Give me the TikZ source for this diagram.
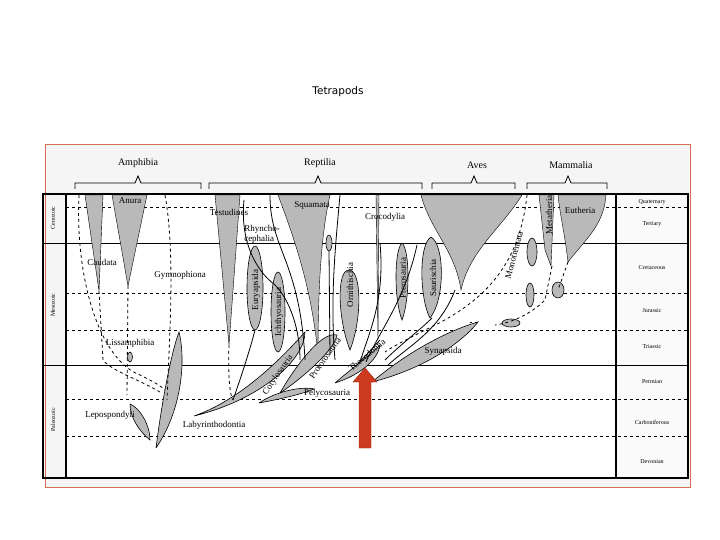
\documentclass[tikz,border=0pt]{standalone}
\usepackage{fontspec}
\setmainfont{Liberation Serif}
\newfontfamily\titlefont{DejaVu Sans}
\begin{document}
\begin{tikzpicture}[x=1pt,y=-1pt,
  sh/.style={fill=gray!55,draw=black,line width=0.6pt},
  lb/.style={font=\fontsize{9}{10}\selectfont,inner sep=0.5pt},
  pl/.style={font=\fontsize{6}{7}\selectfont,inner sep=0.5pt},
  gl/.style={font=\fontsize{10}{11}\selectfont},
  dl/.style={dashed,line width=0.8pt},
  sl/.style={line width=0.8pt},
  br/.style={line width=0.8pt}]
\useasboundingbox (0,0) rectangle (720,540);
\node[font=\titlefont\fontsize{10.5}{12}\selectfont] (title) at (338,92) {Tetrapods};
% frame
\draw[draw={rgb,255:red,214;green,110;blue,86},fill=gray!8,line width=1pt] (45,145) rectangle (690,487);
\fill[white] (66,194) rectangle (616,478);
\fill[white!96!gray] (616,194) rectangle (688,478);
% period lines
\foreach \y in {243,365} \draw[line width=0.7pt] (66,\y) -- (688,\y);
\foreach \y in {207,293,330,399,436} \draw[dashed,line width=0.6pt] (66,\y) -- (688,\y);
\draw[line width=0.5pt] (43,243) -- (66,243) (43,365) -- (66,365);
% shapes
\begin{scope}
\fill[gray!55,draw=black] (85,195) -- (103,195) -- (99,291) -- cycle;
\fill[gray!55,draw=black] (112,195) -- (147,195) -- (128,286) -- cycle;
\fill[gray!55,draw=black] (215,195) -- (240,195) -- (229,345) -- cycle;
\fill[gray!55,draw=black] (278,195) -- (330,195) .. controls (322,230) and (318,280) .. (318,355) .. controls (312,290) and (295,240) .. cycle;
\fill[gray!55,draw=black] (376,195) -- (379,195) -- (378,340) -- cycle;
\fill[gray!55,draw=black] (421,195) -- (522,195) .. controls (500,230) and (470,250) .. (461,290) .. controls (455,250) and (430,230) .. cycle;
\fill[gray!55,draw=black] (558,195) -- (606,195) .. controls (604,225) and (585,240) .. (568,262) .. controls (565,235) and (560,215) .. cycle;
\fill[gray!55,draw=black] (539,195) -- (554,195) -- (551,266) -- (545,250) -- cycle;
\draw[sh] (255,288) ellipse (8 and 42);
\draw[sh] (278,312) ellipse (7 and 40);
\draw[sh] (349,270) .. controls (362,270) and (362,320) .. (350,350) .. controls (338,320) and (336,270) .. (349,270);
\draw[sh] (402,243) .. controls (410,250) and (410,300) .. (402,320) .. controls (394,300) and (394,250) .. (402,243);
\draw[sh] (431,237) .. controls (445,245) and (445,300) .. (430,318) .. controls (420,300) and (418,245) .. (431,237);
\draw[sh] (156,448) .. controls (162,400) and (172,350) .. (179,332) .. controls (186,360) and (182,410) .. (156,448);
\draw[sh] (130,404) .. controls (140,408) and (150,425) .. (150,440) .. controls (140,432) and (130,418) .. (130,404);
\draw[sh] (372,382) .. controls (410,350) and (450,330) .. (478,322) .. controls (460,345) and (420,370) .. (372,382);
\draw[sh] (259,403) .. controls (275,392) and (300,386) .. (314,389) .. controls (300,395) and (275,400) .. (259,403);
\draw[sh] (194,416) .. controls (240,400) and (280,360) .. (305,332) .. controls (305,360) and (260,400) .. (194,416);
\draw[sh] (280,393) .. controls (290,375) and (320,330) .. (337,335) .. controls (335,350) and (300,380) .. (280,393);
\draw[sh] (335,383) .. controls (350,370) and (370,355) .. (380,345) .. controls (378,360) and (360,375) .. (335,383);
\draw[sh] (511,323) ellipse (9 and 4);
\draw[sh] (530,295) ellipse (4 and 12);
\draw[sh] (558,290) ellipse (6 and 8);
\draw[sh] (532,252) ellipse (5 and 14);
\draw[sh] (329,243) ellipse (3 and 8);
\draw[sh] (130,357) ellipse (2.5 and 5);
\end{scope}
% lines
\draw[dl] (79,195) .. controls (75,280) and (100,360) .. (140,375) .. controls (150,380) and (160,385) .. (165,390);
\draw[dl] (99,291) -- (103,360) .. controls (110,370) and (140,380) .. (160,392);
\draw[dl] (128,286) -- (127,395);
\draw[dl] (165,195) .. controls (175,250) and (170,330) .. (167,400);
\draw[dl] (229,345) .. controls (228,380) and (230,395) .. (233,400);
\draw[sl] (233,400) .. controls (240,380) and (250,350) .. (255,330);
\draw[sl] (244,200) .. controls (240,240) and (255,270) .. (275,285) .. controls (290,300) and (300,330) .. (300,360);
\draw[sl] (270,195) .. controls (270,250) and (300,260) .. (305,360);
\draw[sl] (329,250) -- (330,355);
\draw[sl] (340,195) .. controls (335,250) and (330,300) .. (335,360);
\draw[sl] (380,243) .. controls (385,300) and (370,330) .. (360,362);
\draw[sl] (417,245) .. controls (405,300) and (380,330) .. (366,362);
\draw[sl] (432,318) .. controls (420,330) and (400,345) .. (385,360);
\draw[sl] (455,290) .. controls (440,330) and (410,345) .. (388,365);
\draw[dl] (527,195) .. controls (520,260) and (490,300) .. (425,330) .. controls (410,338) and (395,345) .. (385,352);
\draw[dl] (552,266) -- (545,300) .. controls (530,315) and (510,323) .. (495,325);
\draw[dl] (568,262) -- (558,290);
\draw[dl] (478,322) -- (470,322);
\foreach \a/\b in {{(380,340)}/{(356,366)}} \draw[sl] \a -- \b;
% labels
\node[lb] (anura) at (130,201) {Anura};
\node[lb] (testud) at (229,212) {Testudines};
\node[lb] (squam) at (312,205) {Squamata};
\node[lb,align=left] (rhyn) at (262,234) {Rhyncho-\\cephalia};
\node[lb] (croc) at (385,217) {Crocodylia};
\node[lb] (caud) at (102,262) {Caudata};
\node[lb] (gymno) at (180,275) {Gymnophiona};
\node[lb] (liss) at (130,343) {Lissamphibia};
\node[lb] (lepo) at (110,415) {Lepospondyli};
\node[lb] (laby) at (214,425) {Labyrinthodontia};
\node[lb] (pely) at (327,393) {Pelycosauria};
\node[lb] (syn) at (443,351) {Synapsida};
\node[lb] (euth) at (580,210) {Eutheria};
\node[lb,rotate=90] (meta) at (549,215) {Metatheria};
\node[lb,rotate=75] (mono) at (514,255) {Monotremata};
\node[lb,rotate=90] (eury) at (256,290) {Euryapsida};
\node[lb,rotate=90] (ichth) at (279,312) {Ichthyosauria};
\node[lb,rotate=90] (orni) at (350,285) {Ornithischia};
\node[lb,rotate=90] (ptero) at (403,278) {Pterosauria};
\node[lb,rotate=90] (saur) at (433,278) {Saurischia};
\node[lb,rotate=55] (coty) at (278,375) {Cotylosauria};
\node[lb,rotate=55] (proto) at (325,358) {Protorosauria};
\node[lb,rotate=40] (theco) at (367,355) {Thecodontia};
% groups and braces
\node[gl] (amph) at (138,163) {Amphibia};
\node[gl] (rept) at (320,163) {Reptilia};
\node[gl] (aves) at (477,165) {Aves};
\node[gl] (mamm) at (571,165) {Mammalia};
\draw[br] (75,189) -- (75,183) -- (135,183) -- (138,176) -- (141,183) -- (201,183) -- (201,189);
\draw[br] (209,189) -- (209,183) -- (315,183) -- (318,176) -- (321,183) -- (422,183) -- (422,189);
\draw[br] (432,189) -- (432,183) -- (471,183) -- (474,176) -- (477,183) -- (515,183) -- (515,189);
\draw[br] (527,189) -- (527,183) -- (565,183) -- (568,176) -- (571,183) -- (607,183) -- (607,189);
% eras and periods
\node[pl,rotate=90] (ceno) at (53,218) {Cenozoic};
\node[pl,rotate=90] (meso) at (53,305) {Mesozoic};
\node[pl,rotate=90] (paleo) at (53,420) {Paleozoic};
\node[pl] (p1) at (652,202) {Quaternary};
\node[pl] (p2) at (652,224) {Tertiary};
\node[pl] (p3) at (652,268) {Cretaceous};
\node[pl] (p4) at (652,311) {Jurassic};
\node[pl] (p5) at (652,347) {Triassic};
\node[pl] (p6) at (652,382) {Permian};
\node[pl] (p7) at (652,422) {Carboniferous};
\node[pl] (p8) at (652,462) {Devonian};
% main box
\draw[line width=2pt] (43,194) rectangle (688,478);
\draw[line width=2.5pt] (66,194) -- (66,478);
\draw[line width=1.2pt] (616,194) -- (616,478);
% red arrow
\fill[fill={rgb,255:red,206;green,58;blue,30},draw={rgb,255:red,150;green,40;blue,20}] (359,448) -- (371,448) -- (371,382) -- (377,382) -- (365,368) -- (353,382) -- (359,382) -- cycle;
\end{tikzpicture}
\end{document}
